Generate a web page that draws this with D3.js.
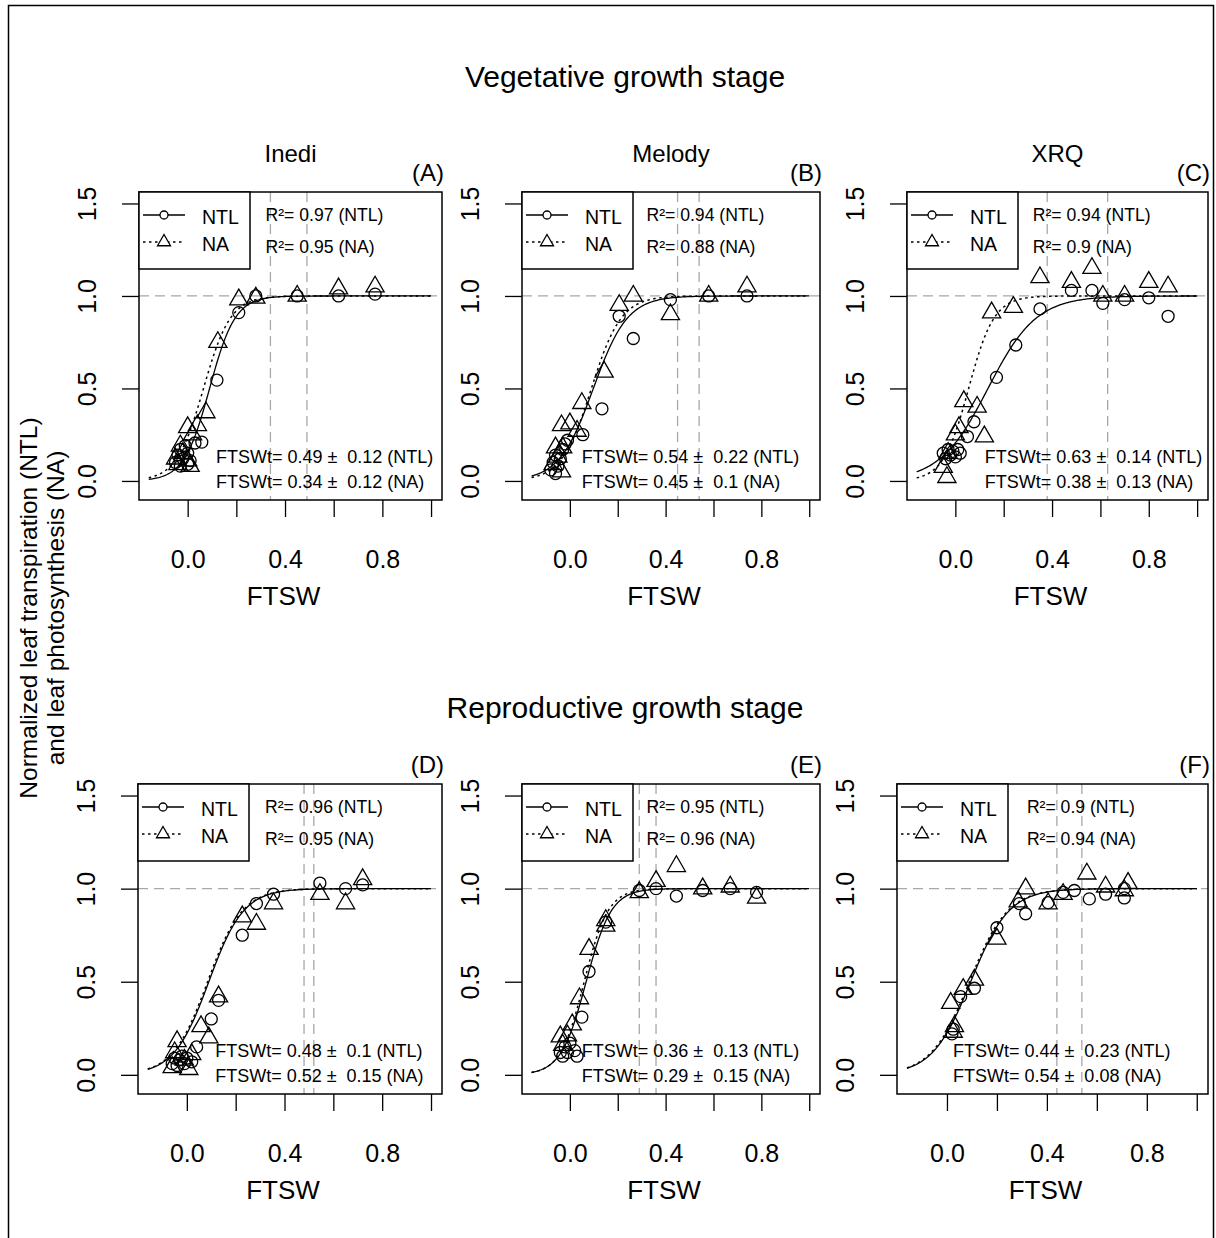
<!DOCTYPE html>
<html>
<head>
<meta charset="utf-8">
<script src="https://cdn.jsdelivr.net/npm/d3@7"></script>
<style>
body { margin: 0; background: #fff; }
svg { display: block; font-family: "Liberation Sans", Arial, sans-serif; }
</style>
</head>
<body>
<script>
const width = 1216
const height = 1238

// ---- data ----
const stages = ["Vegetative growth stage", "Reproductive growth stage"]
const cultivars = ["Inedi", "Melody", "XRQ"]
const panelLabels = ["(A)", "(B)", "(C)", "(D)", "(E)", "(F)"]

const xTicks = [0, 0.2, 0.4, 0.6, 0.8, 1.0]
const xTickLabels = [0, 0.4, 0.8]
const yTicks = [0, 0.5, 1.0, 1.5]

const r2NTL = [0.97, 0.94, 0.94, 0.96, 0.95, 0.9]
const r2NA = [0.95, 0.88, 0.9, 0.95, 0.96, 0.94]
const ftswtNTL = [0.49, 0.54, 0.63, 0.48, 0.36, 0.44]
const sdNTL = [0.12, 0.22, 0.14, 0.1, 0.13, 0.23]
const ftswtNA = [0.34, 0.45, 0.38, 0.52, 0.29, 0.54]
const sdNA = [0.12, 0.1, 0.13, 0.15, 0.15, 0.08]

// fitted logistic curves: midpoint and slope, estimated from the drawn curves
const midNTL = [0.09, 0.098, 0.135, 0.09, 0.068, 0.095]
const slopeNTL = [19, 14, 10, 14, 19, 13]
const midNA = [0.065, 0.09, 0.055, 0.085, 0.06, 0.09]
const slopeNA = [18, 16, 19, 14, 20, 13]

// observations [FTSW, normalized value]
const ntlA = [[-0.05,0.10],[-0.04,0.14],[-0.03,0.17],[-0.02,0.12],[-0.01,0.19],[0.0,0.15],[0.01,0.11],[-0.03,0.08],[0.0,0.09],[0.03,0.205],[0.058,0.21],[0.12,0.545],[0.21,0.91],[0.28,1.0],[0.45,1.0],[0.62,1.0],[0.77,1.01]]
const naA = [[-0.05,0.12],[-0.03,0.19],[-0.02,0.15],[0.0,0.11],[0.01,0.08],[-0.04,0.09],[0.0,0.29],[0.04,0.30],[0.02,0.25],[0.075,0.37],[0.124,0.75],[0.21,0.98],[0.28,0.99],[0.45,1.0],[0.62,1.04],[0.77,1.05]]
const ntlB = [[-0.08,0.06],[-0.07,0.10],[-0.06,0.14],[-0.05,0.08],[-0.04,0.12],[-0.03,0.17],[-0.06,0.04],[-0.02,0.20],[-0.01,0.22],[0.054,0.25],[0.134,0.39],[0.206,0.89],[0.265,0.77],[0.42,0.98],[0.58,1.0],[0.74,1.0]]
const naB = [[-0.06,0.18],[-0.03,0.18],[-0.035,0.05],[-0.07,0.09],[-0.05,0.13],[-0.035,0.30],[0.0,0.31],[0.03,0.27],[0.05,0.42],[0.143,0.59],[0.206,0.95],[0.265,1.0],[0.42,0.90],[0.58,1.0],[0.74,1.05]]
const ntlC = [[-0.05,0.15],[-0.04,0.12],[-0.03,0.17],[-0.02,0.14],[-0.01,0.16],[0.0,0.13],[0.01,0.17],[0.02,0.15],[0.05,0.24],[0.077,0.32],[0.17,0.56],[0.25,0.735],[0.35,0.93],[0.48,1.03],[0.565,1.03],[0.61,0.96],[0.70,0.98],[0.80,0.99],[0.88,0.89]]
const naC = [[-0.05,0.075],[-0.035,0.02],[-0.03,0.15],[0.0,0.25],[0.015,0.29],[0.035,0.43],[0.09,0.40],[0.12,0.24],[0.15,0.91],[0.24,0.94],[0.35,1.10],[0.48,1.075],[0.565,1.15],[0.61,1.0],[0.70,1.0],[0.80,1.075],[0.88,1.05]]
const ntlD = [[-0.06,0.06],[-0.05,0.09],[-0.04,0.05],[-0.03,0.08],[-0.02,0.10],[-0.01,0.06],[0.0,0.09],[0.02,0.07],[0.04,0.15],[0.1,0.30],[0.13,0.40],[0.227,0.75],[0.285,0.92],[0.355,0.97],[0.545,1.03],[0.65,1.0],[0.72,1.02]]
const naD = [[-0.06,0.04],[-0.05,0.12],[-0.04,0.18],[-0.01,0.08],[0.008,0.03],[0.02,0.11],[0.058,0.26],[0.09,0.2],[0.13,0.42],[0.227,0.85],[0.285,0.81],[0.355,0.92],[0.545,0.97],[0.65,0.92],[0.72,1.05]]
const ntlE = [[-0.04,0.12],[-0.03,0.10],[-0.02,0.15],[-0.01,0.12],[0.0,0.17],[0.02,0.13],[0.03,0.10],[0.05,0.31],[0.08,0.555],[0.15,0.82],[0.29,0.99],[0.36,1.0],[0.445,0.96],[0.555,0.99],[0.67,1.0],[0.78,0.98]]
const naE = [[-0.04,0.205],[-0.01,0.21],[-0.03,0.16],[0.01,0.27],[0.04,0.41],[0.08,0.675],[0.15,0.83],[0.15,0.80],[0.29,0.98],[0.36,1.04],[0.445,1.12],[0.555,1.0],[0.67,1.01],[0.78,0.95]]
const ntlF = [[0.025,0.245],[0.02,0.22],[0.055,0.42],[0.11,0.465],[0.20,0.79],[0.29,0.92],[0.315,0.865],[0.405,0.925],[0.465,0.98],[0.51,0.99],[0.57,0.945],[0.635,0.97],[0.71,0.95],[0.71,1.0]]
const naF = [[0.015,0.385],[0.025,0.23],[0.03,0.26],[0.065,0.46],[0.11,0.51],[0.20,0.73],[0.285,0.93],[0.315,1.0],[0.405,0.92],[0.465,0.97],[0.56,1.08],[0.635,1.01],[0.71,0.99],[0.725,1.03]]

const ntlPoints = [ntlA, ntlB, ntlC, ntlD, ntlE, ntlF]
const naPoints = [naA, naB, naC, naD, naE, naF]

// ---- layout ----
const boxLeft = [139, 522, 907, 138, 522, 897]
const boxRight = [442, 820, 1208, 442, 820, 1208]
const rowTop = [192, 784]
const rowBottom = [500, 1094]
const stageTitleY = [76, 707]
const ftTextX = [0.116, 0.05, 0.122, 0.116, 0.05, 0.024]
const grey = "#a8a8a8"

const svg = d3.select("body").append("svg")
    .attr("width", width)
    .attr("height", height)

// outer frame
svg.append("rect")
    .attr("x", 8.5).attr("y", 5.5)
    .attr("width", 1205).attr("height", 1245)
    .attr("fill", "none").attr("stroke", "#000").attr("stroke-width", 1.5)

stages.forEach((s, r) => {
    svg.append("text")
        .attr("x", 625).attr("y", stageTitleY[r])
        .attr("text-anchor", "middle").attr("dominant-baseline", "central")
        .attr("font-size", 30)
        .text(s)
})

// y axis title
;["Normalized leaf transpiration (NTL)", "and leaf photosynthesis (NA)"].forEach((t, k) => {
    svg.append("text")
        .attr("transform", `translate(${28 + k * 27},608) rotate(-90)`)
        .attr("text-anchor", "middle").attr("dominant-baseline", "central")
        .attr("font-size", 24.5)
        .text(t)
})

const tri = (r) => `M0,${-r}L${r * 0.866},${r / 2}L${-r * 0.866},${r / 2}Z`

panelLabels.forEach((lab, i) => {
    const row = Math.floor(i / 3)
    const L = boxLeft[i], R = boxRight[i], T = rowTop[row], B = rowBottom[row]
    const x = d3.scaleLinear().domain([-0.2, 1.045]).range([L, R])
    const y = d3.scaleLinear().domain([-0.103, 1.562]).range([B, T])
    const g = svg.append("g")

    // reference lines
    g.append("line")
        .attr("x1", L).attr("x2", R).attr("y1", y(1)).attr("y2", y(1))
        .attr("stroke", grey).attr("stroke-width", 1.3).attr("stroke-dasharray", "10,6")
    ;[ftswtNTL[i], ftswtNA[i]].forEach((v) => {
        g.append("line")
            .attr("x1", x(v)).attr("x2", x(v)).attr("y1", T).attr("y2", B)
            .attr("stroke", grey).attr("stroke-width", 1.3).attr("stroke-dasharray", "10,6")
    })

    // fitted curves
    const xs = d3.range(-0.16, 1.0001, 0.005)
    const logistic = (m, k) => xs.map((v) => [v, 1 / (1 + Math.exp(-k * (v - m)))])
    const line = d3.line().x((d) => x(d[0])).y((d) => y(d[1]))
    g.append("path")
        .attr("d", line(logistic(midNTL[i], slopeNTL[i])))
        .attr("fill", "none").attr("stroke", "#000").attr("stroke-width", 1.3)
    g.append("path")
        .attr("d", line(logistic(midNA[i], slopeNA[i])))
        .attr("fill", "none").attr("stroke", "#000").attr("stroke-width", 1.5)
        .attr("stroke-dasharray", "2.5,3.5")

    // points
    g.append("g").selectAll("circle")
        .data(ntlPoints[i])
        .join("circle")
        .attr("cx", (d) => x(d[0]))
        .attr("cy", (d) => y(d[1]))
        .attr("r", 6)
        .attr("fill", "none").attr("stroke", "#000").attr("stroke-width", 1.3)
    g.append("g").selectAll("path")
        .data(naPoints[i])
        .join("path")
        .attr("d", tri(10.5))
        .attr("transform", (d) => `translate(${x(d[0])},${y(d[1])})`)
        .attr("fill", "none").attr("stroke", "#000").attr("stroke-width", 1.3)

    // box
    g.append("rect")
        .attr("x", L).attr("y", T).attr("width", R - L).attr("height", B - T)
        .attr("fill", "none").attr("stroke", "#000").attr("stroke-width", 1.5)

    // axes
    const xa = g.append("g")
        .attr("transform", `translate(0,${B})`)
        .call(d3.axisBottom(x).tickValues(xTicks).tickSize(17).tickPadding(33)
            .tickFormat((d) => xTickLabels.includes(d) ? d3.format(".1f")(d) : ""))
        .attr("font-size", 25).attr("font-family", null)
    xa.select(".domain").remove()
    xa.selectAll("line").attr("stroke", "#000").attr("stroke-width", 1.3)
    xa.selectAll("text").attr("fill", "#000")

    const ya = g.append("g")
        .attr("transform", `translate(${L},0)`)
        .call(d3.axisLeft(y).tickValues(yTicks).tickSize(17).tickFormat(d3.format(".1f")))
        .attr("font-size", 25).attr("font-family", null)
    ya.select(".domain").remove()
    ya.selectAll("line").attr("stroke", "#000").attr("stroke-width", 1.3)
    ya.selectAll("text")
        .attr("x", 0).attr("dy", "0.35em").attr("fill", "#000")
        .attr("text-anchor", "middle")
        .attr("transform", "translate(-52,0) rotate(-90)")

    g.append("text")
        .attr("x", (L + R) / 2 - 7).attr("y", B + 96)
        .attr("text-anchor", "middle").attr("dominant-baseline", "central")
        .attr("font-size", 26)
        .text("FTSW")

    // titles
    if (row === 0) {
        g.append("text")
            .attr("x", (L + R) / 2).attr("y", T - 39)
            .attr("text-anchor", "middle").attr("dominant-baseline", "central")
            .attr("font-size", 24)
            .text(cultivars[i % 3])
    }
    g.append("text")
        .attr("x", R + 2).attr("y", T - 20)
        .attr("text-anchor", "end").attr("dominant-baseline", "central")
        .attr("font-size", 24)
        .text(lab)

    // legend
    g.append("rect")
        .attr("x", L).attr("y", T).attr("width", 111).attr("height", 77)
        .attr("fill", "#fff").attr("stroke", "#000").attr("stroke-width", 1.5)
    ;["NTL", "NA"].forEach((nm, k) => {
        const ly = T + 23 + k * 27
        g.append("line")
            .attr("x1", L + 4).attr("x2", L + 46).attr("y1", ly).attr("y2", ly)
            .attr("stroke", "#000").attr("stroke-width", 1.3)
            .attr("stroke-dasharray", k ? "2.5,3.5" : null)
        if (k === 0) {
            g.append("circle").attr("cx", L + 25).attr("cy", ly).attr("r", 4)
                .attr("fill", "#fff").attr("stroke", "#000").attr("stroke-width", 1.3)
        } else {
            g.append("path").attr("d", tri(7.5))
                .attr("transform", `translate(${L + 25},${ly})`)
                .attr("fill", "#fff").attr("stroke", "#000").attr("stroke-width", 1.3)
        }
        g.append("text")
            .attr("x", L + 63).attr("y", ly + 2)
            .attr("dominant-baseline", "central")
            .attr("font-size", 19.5)
            .text(nm)
    })

    // annotations
    const ann = [
        [0.32, 1.44, `R²= ${r2NTL[i]} (NTL)`, 17.6],
        [0.32, 1.265, `R²= ${r2NA[i]} (NA)`, 17.6],
        [ftTextX[i], 0.13, `FTSWt= ${ftswtNTL[i]} ±  ${sdNTL[i]} (NTL)`, 18],
        [ftTextX[i], -0.005, `FTSWt= ${ftswtNA[i]} ±  ${sdNA[i]} (NA)`, 18],
    ]
    ann.forEach(([ax, ay, t, fs]) => {
        g.append("text")
            .attr("x", x(ax)).attr("y", y(ay))
            .attr("dominant-baseline", "central")
            .attr("font-size", fs)
            .style("white-space", "pre")
            .text(t)
    })
})
</script>
</body>
</html>
